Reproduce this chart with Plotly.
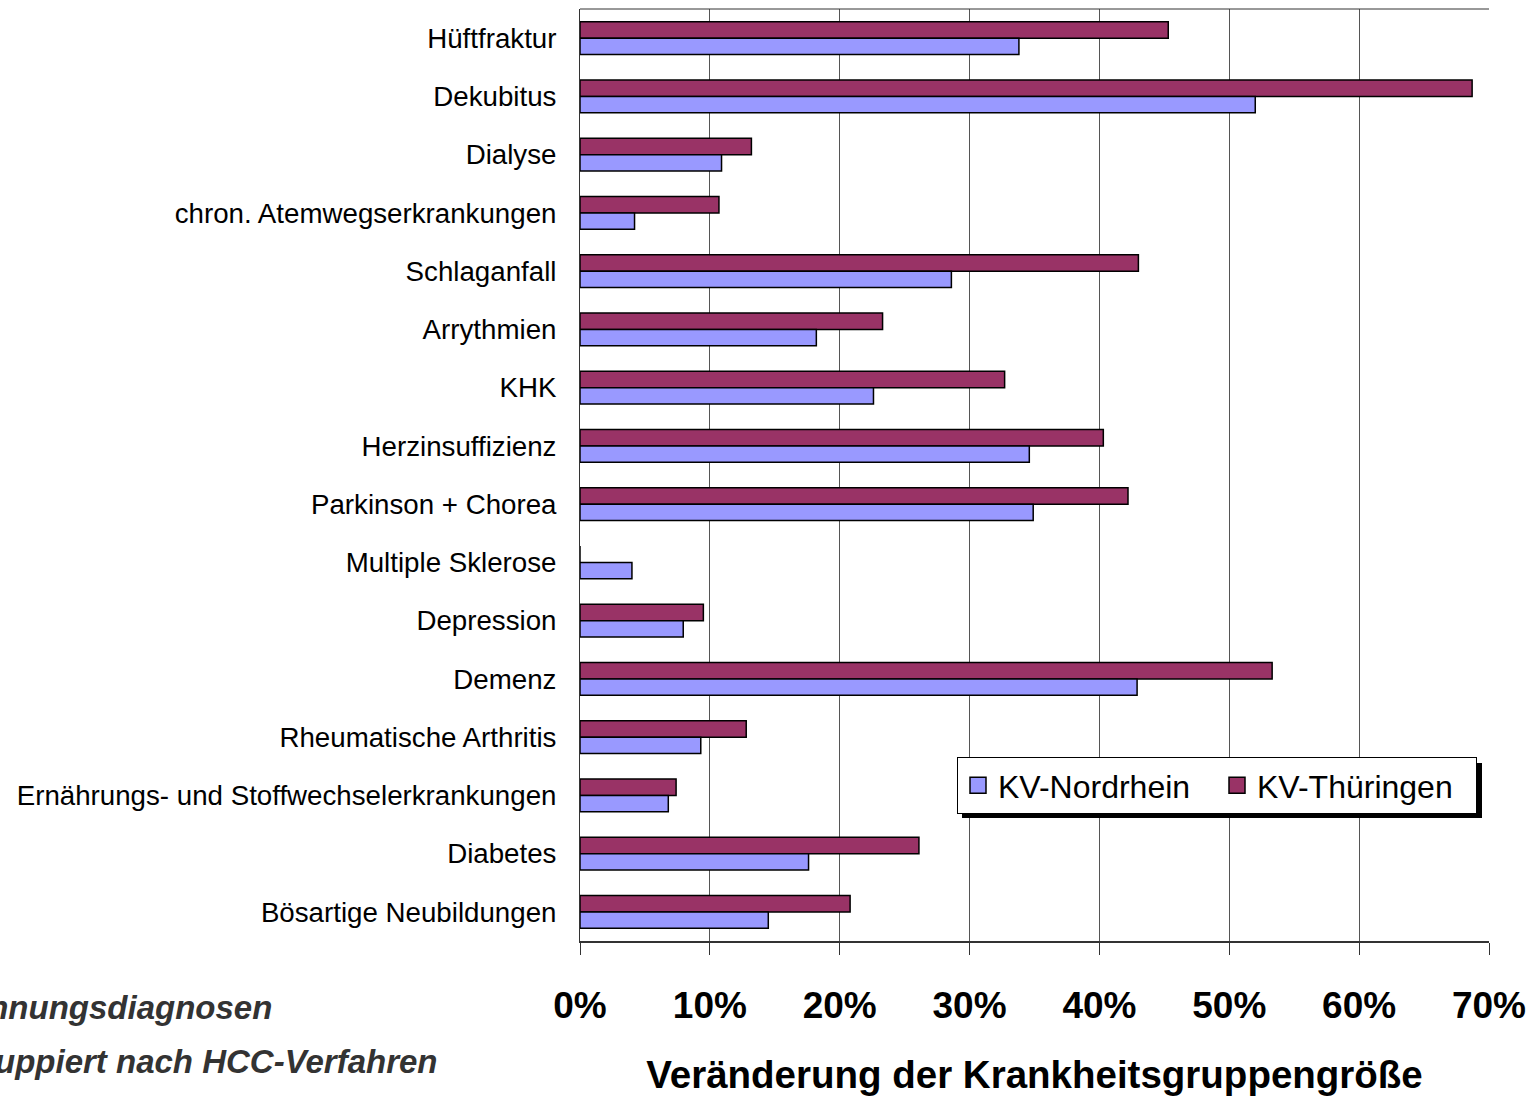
import plotly.graph_objects as go

# Disease groups, listed top to bottom
categories = [
    "Hüftfraktur",
    "Dekubitus",
    "Dialyse",
    "chron. Atemwegserkrankungen",
    "Schlaganfall",
    "Arrythmien",
    "KHK",
    "Herzinsuffizienz",
    "Parkinson + Chorea",
    "Multiple Sklerose",
    "Depression",
    "Demenz",
    "Rheumatische Arthritis",
    "Ernährungs- und Stoffwechselerkrankungen",
    "Diabetes",
    "Bösartige Neubildungen",
]

# Change of group size in percent
kv_thueringen = [45.3, 68.7, 13.2, 10.7, 43.0, 23.3, 32.7, 40.3, 42.2, 0.0,
                 9.5, 53.3, 12.8, 7.4, 26.1, 20.8]
kv_nordrhein = [33.8, 52.0, 10.9, 4.2, 28.6, 18.2, 22.6, 34.6, 34.9, 4.0,
                7.95, 42.9, 9.3, 6.8, 17.6, 14.5]

x_ticks = [0, 10, 20, 30, 40, 50, 60, 70]
x_tick_labels = ["0%", "10%", "20%", "30%", "40%", "50%", "60%", "70%"]

FONT = "Liberation Sans, Arial, sans-serif"
C_TH = "#993366"
C_NR = "#9999FF"

W, H = 1535, 1102
L, R, T, B = 580, 46, 9, 161
PW, PH = W - L - R, H - T - B


def px(x):
    return (x - L) / PW


def py(y):
    return (H - B - y) / PH


fig = go.Figure()
fig.add_trace(go.Bar(
    name="KV-Thüringen", y=categories, x=kv_thueringen, orientation="h",
    marker=dict(color=C_TH, line=dict(color="#000000", width=1.5)),
    showlegend=False,
))
fig.add_trace(go.Bar(
    name="KV-Nordrhein", y=categories, x=kv_nordrhein, orientation="h",
    marker=dict(color=C_NR, line=dict(color="#000000", width=1.5)),
    showlegend=False,
))
# Legend keys with larger square swatches
for name, color in (("KV-Nordrhein", C_NR), ("KV-Thüringen", C_TH)):
    fig.add_trace(go.Scatter(
        name=name, x=[None], y=[None], mode="markers",
        marker=dict(symbol="square", size=16, color=color,
                    line=dict(color="#000000", width=1.5)),
    ))

fig.update_layout(
    width=W, height=H,
    margin=dict(l=L, r=R, t=T, b=B, autoexpand=False),
    paper_bgcolor="white", plot_bgcolor="white",
    barmode="group", bargap=0.44, bargroupgap=0.0,
    font=dict(family=FONT, color="black"),
    showlegend=True,
    legend=dict(
        orientation="h", x=px(957), y=py(757), xanchor="left", yanchor="top",
        bgcolor="white", bordercolor="black", borderwidth=1,
        font=dict(size=32, family=FONT), itemsizing="trace",
        entrywidthmode="pixels", entrywidth=214, traceorder="normal",
        tracegroupgap=0, itemwidth=30,
    ),
    xaxis=dict(
        range=[0, 70], tickvals=x_ticks, ticktext=x_tick_labels,
        showgrid=True, gridcolor="#555555", gridwidth=1,
        zeroline=False, showline=True, linecolor="#333333", linewidth=2,
        ticks="outside", ticklen=12, tickcolor="#333333",
        ticklabelstandoff=19,
        tickfont=dict(size=37, family=FONT, weight="bold"),
        title=dict(text="<b>Veränderung der Krankheitsgruppengröße</b>",
                   font=dict(size=38.5, family=FONT), standoff=36),
        automargin=False, fixedrange=True,
    ),
    yaxis=dict(
        autorange="reversed", showgrid=False, showline=True,
        linecolor="#333333", linewidth=1, ticks="",
        ticklabelstandoff=17,
        tickfont=dict(size=27.7, family=FONT),
        automargin=False, fixedrange=True,
    ),
)

# Top frame line of the plot area
fig.add_shape(type="line", xref="paper", yref="paper", x0=0, x1=1, y0=1, y1=1,
              line=dict(color="#333333", width=1))

# Drop shadow behind the legend box
fig.add_shape(type="rect", xref="paper", yref="paper",
              x0=px(962), x1=px(1482), y0=py(818), y1=py(763),
              fillcolor="black", line=dict(width=0), layer="above")

# Caption in the lower left corner (runs off the left edge)
fig.add_annotation(
    xref="paper", yref="paper", x=px(274), y=py(1007),
    xanchor="right", yanchor="middle", showarrow=False,
    text="<b><i>Kennungsdiagnosen</i></b>",
    font=dict(size=33, family=FONT, color="#333333"),
)
fig.add_annotation(
    xref="paper", yref="paper", x=px(440), y=py(1061),
    xanchor="right", yanchor="middle", showarrow=False,
    text="<b><i>gruppiert nach HCC-Verfahren</i></b>",
    font=dict(size=33, family=FONT, color="#333333"),
)

fig.write_html("out.html")
